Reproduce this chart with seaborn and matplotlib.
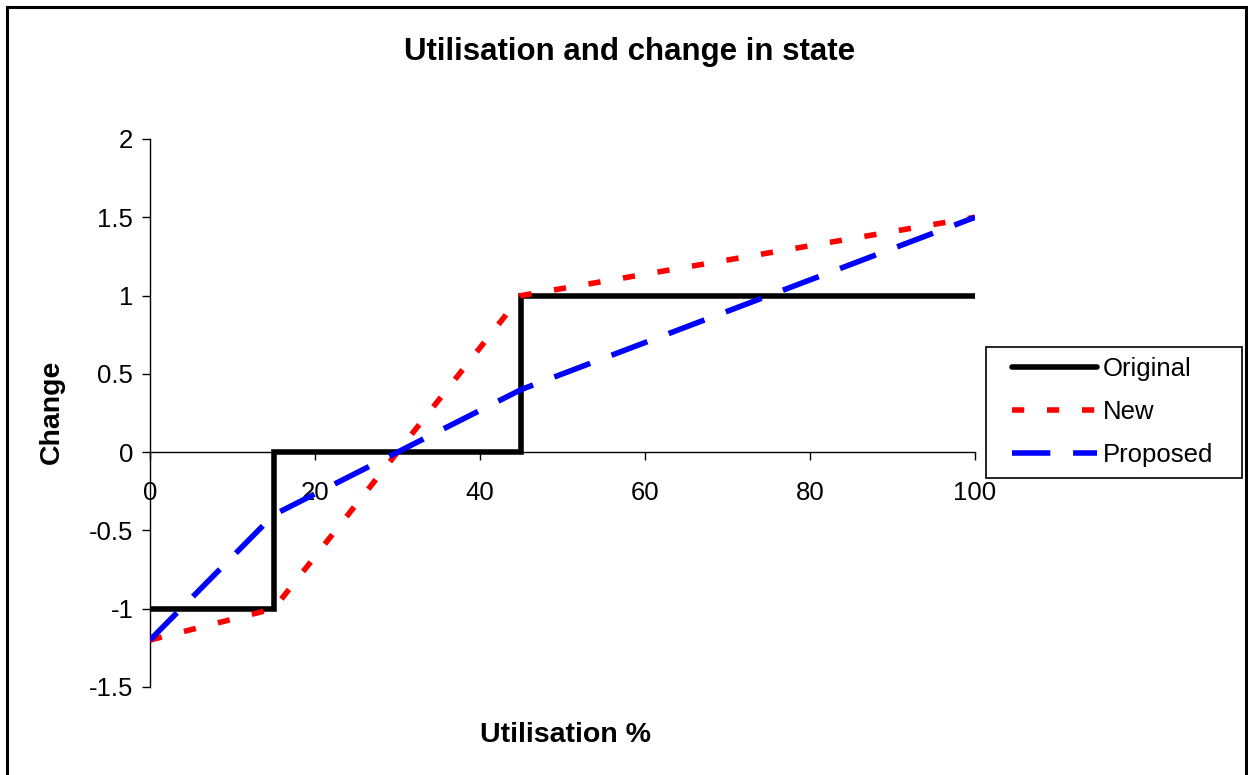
import matplotlib
matplotlib.use("Agg")
import matplotlib.pyplot as plt
import seaborn as sns
import pandas as pd
from matplotlib.patches import Rectangle

# Data
orig_x = [0, 15, 15, 45, 45, 100]
orig_y = [-1, -1, 0, 0, 1, 1]
new_x = [0, 15, 30, 45, 100]
new_y = [-1.2, -1.0, 0.0, 1.0, 1.5]
prop_x = [0, 15, 30, 45, 100]
prop_y = [-1.2, -0.4, 0.0, 0.4, 1.5]
x_ticks = [0, 20, 40, 60, 80, 100]
y_ticks = [-1.5, -1, -0.5, 0, 0.5, 1, 1.5, 2]

sns.set_theme(style="white")
plt.rcParams['font.family'] = ['Liberation Sans', 'DejaVu Sans']
plt.rcParams['text.color'] = 'black'

W, H = 1248, 775
fig = plt.figure(figsize=(W / 100, H / 100), dpi=100)
ax = fig.add_axes([150 / W, 1 - 687 / H, (975 - 150) / W, (687 - 139) / H])

df_o = pd.DataFrame({"x": orig_x, "y": orig_y})
df_n = pd.DataFrame({"x": new_x, "y": new_y})
df_p = pd.DataFrame({"x": prop_x, "y": prop_y})

lw = 4.0
sns.lineplot(data=df_o, x="x", y="y", ax=ax, color="black", lw=lw,
             estimator=None, sort=False, label="Original",
             solid_joinstyle="miter", solid_capstyle="round")
sns.lineplot(data=df_n, x="x", y="y", ax=ax, color="#ff0000", lw=lw,
             estimator=None, sort=False, label="New")
sns.lineplot(data=df_p, x="x", y="y", ax=ax, color="#0000ff", lw=lw,
             estimator=None, sort=False, label="Proposed")
ax.lines[1].set_dashes([2.2, 4.1])
ax.lines[1].set_dash_capstyle("butt")
ax.lines[2].set_dashes([6.9, 4.1])
ax.lines[2].set_dash_capstyle("butt")

ax.set_xlim(0, 100)
ax.set_ylim(-1.5, 2)
ax.set_xticks(x_ticks)
ax.set_yticks(y_ticks)
ax.set_yticklabels([("%g" % v) for v in y_ticks])
ax.set_xticklabels([str(v) for v in x_ticks])
ax.set_xlabel("")
ax.set_ylabel("")

for s in ["top", "right"]:
    ax.spines[s].set_visible(False)
ax.spines["bottom"].set_position(("data", 0))
ax.spines["left"].set_position(("data", 0))
for s in ["bottom", "left"]:
    ax.spines[s].set_color("black")
    ax.spines[s].set_linewidth(1.0)
    ax.spines[s].set_zorder(0.5)
ax.tick_params(axis="both", direction="out", length=6, width=1, color="black",
               labelsize=18.5, labelcolor="black", bottom=True, left=True)
ax.tick_params(axis="x", pad=15)
ax.tick_params(axis="y", pad=6)
ax.set_facecolor("white")

fig.text(630 / W, 1 - 52 / H, "Utilisation and change in state", ha="center",
         va="center", fontsize=22.5, fontweight="bold", color="black")
fig.text(565 / W, 1 - 735 / H, "Utilisation %", ha="center", va="center",
         fontsize=20.5, fontweight="bold", color="black")
fig.text(52 / W, 1 - 412 / H, "Change", ha="center", va="center",
         rotation=90, fontsize=20.5, fontweight="bold", color="black")

ax.legend_.remove()
handles, labels = ax.get_legend_handles_labels()
leg = fig.legend(handles, labels, loc="center left",
                 bbox_to_anchor=(1012 / W, 1 - 412 / H), bbox_transform=fig.transFigure,
                 frameon=False, fontsize=18.5, handlelength=3.3,
                 handletextpad=0.25, labelspacing=0.75, borderpad=0.0,
                 borderaxespad=0, labelcolor="black")

fig.patches.append(Rectangle((986 / W, 1 - 478 / H), (1242 - 986) / W, (478 - 347) / H,
                             transform=fig.transFigure, fill=False,
                             edgecolor="black", linewidth=1.2))
fig.patches.append(Rectangle((7 / W, -0.02), (1246 - 7) / W, 1.02 - 7 / H,
                             transform=fig.transFigure, fill=False,
                             edgecolor="black", linewidth=2.2))

fig.savefig("out.png", dpi=100, facecolor="white")
